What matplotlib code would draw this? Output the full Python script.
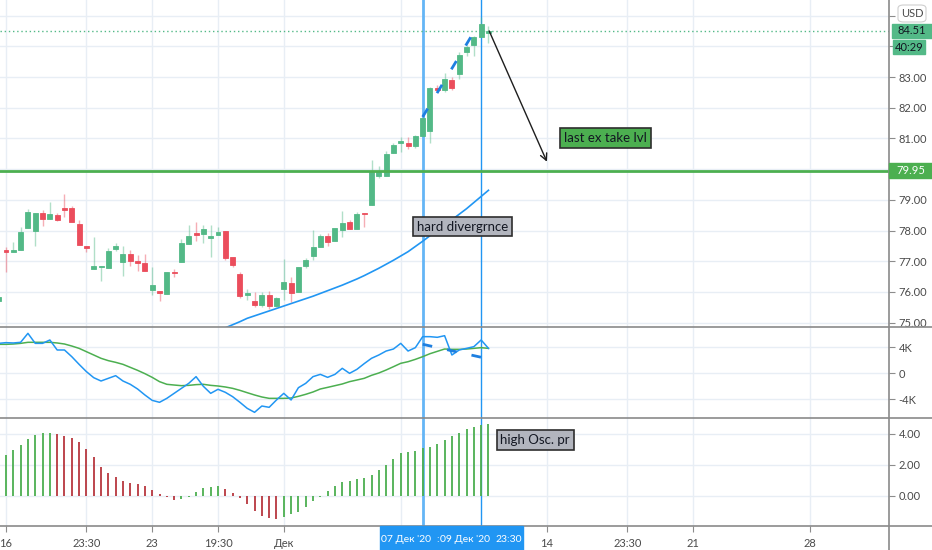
import numpy as np
import matplotlib
matplotlib.use("Agg")
import matplotlib.pyplot as plt
from matplotlib.patches import Rectangle, FancyBboxPatch
from matplotlib.lines import Line2D

# ---- data (bar index -1 .. 66) ----
bars = np.arange(-1, 67)
opens = [75.70, 77.37, 77.30, 77.36, 78.07, 77.99, 78.57, 78.38, 78.50, 78.73,
         78.74, 78.20, 77.50, 76.75, 76.81, 76.79, 77.41, 76.98, 77.23, 77.00,
         76.95, 76.05, 76.03, 75.93, 76.66, 76.98, 77.56, 77.91, 77.88, 77.77,
         77.84, 77.98, 77.13, 76.57, 75.91, 75.70, 75.57, 75.90, 75.55, 76.08,
         76.28, 76.00, 76.83, 77.17, 77.47, 77.82, 77.66, 78.02, 78.27, 78.04,
         78.56, 78.83, 79.79, 79.79, 80.51, 80.86, 80.85, 80.75, 81.08, 81.25,
         82.63, 82.57, 82.91, 83.09, 83.80, 84.04, 84.29, 84.44]
highs = [75.90, 77.47, 77.64, 78.10, 78.69, 78.57, 78.67, 78.94, 78.56, 79.19,
         78.80, 78.33, 77.50, 77.80, 76.84, 77.44, 77.60, 77.50, 77.35, 77.20,
         77.22, 76.82, 76.03, 76.64, 76.74, 77.71, 78.18, 78.28, 78.18, 78.18,
         78.10, 77.98, 77.15, 76.66, 76.09, 76.00, 76.00, 76.04, 75.85, 77.08,
         76.50, 76.82, 77.10, 78.01, 77.87, 77.91, 78.08, 78.63, 78.34, 78.60,
         78.56, 80.30, 80.10, 80.60, 80.84, 81.06, 81.06, 81.11, 81.70, 82.68,
         82.74, 83.14, 83.00, 83.82, 84.04, 84.34, 84.94, 84.66]
lows = [75.65, 76.65, 77.30, 77.36, 78.07, 77.50, 78.15, 78.38, 78.31, 78.44,
        78.29, 77.53, 77.30, 76.75, 76.37, 76.79, 77.33, 76.53, 76.85, 76.68,
        76.69, 75.90, 75.71, 75.93, 76.50, 76.98, 77.56, 77.65, 77.60, 77.15,
        77.84, 77.05, 76.82, 75.81, 75.74, 75.50, 75.50, 75.43, 75.50, 75.74,
        75.67, 76.00, 76.78, 77.04, 77.47, 77.50, 77.66, 77.80, 78.04, 78.04,
        78.12, 78.83, 79.70, 79.79, 80.51, 80.57, 80.64, 80.68, 81.08, 80.86,
        82.52, 82.52, 82.58, 82.93, 83.69, 83.69, 84.29, 84.12]
closes = [75.83, 77.30, 77.35, 77.96, 78.61, 78.57, 78.38, 78.53, 78.35, 78.66,
          78.29, 77.53, 77.44, 76.83, 76.84, 77.34, 77.50, 77.23, 77.00, 76.94,
          76.69, 76.22, 75.98, 76.64, 76.62, 77.60, 77.83, 77.86, 78.04, 77.81,
          77.95, 77.11, 76.87, 75.88, 75.95, 75.58, 75.90, 75.54, 75.80, 76.32,
          75.95, 76.82, 77.03, 77.47, 77.82, 77.64, 78.08, 78.24, 78.04, 78.55,
          78.53, 79.92, 79.90, 80.49, 80.79, 80.91, 80.76, 81.08, 81.65, 82.65,
          82.57, 82.93, 82.63, 83.72, 83.98, 84.29, 84.73, 84.51]

ma_bars = np.arange(29, 67)
ma_values = [74.72, 74.83, 74.93, 75.03, 75.14, 75.22, 75.30, 75.38, 75.46, 75.54,
             75.62, 75.70, 75.78, 75.86, 75.95, 76.04, 76.13, 76.22, 76.32, 76.42,
             76.53, 76.65, 76.77, 76.90, 77.03, 77.17, 77.31, 77.48, 77.65, 77.83,
             78.00, 78.18, 78.35, 78.53, 78.71, 78.91, 79.11, 79.31]

osc_fast = [4.56, 4.67, 4.62, 4.72, 6.10, 4.56, 4.56, 5.08, 3.54, 3.54,
            2.51, 1.33, 0.21, -0.72, -1.23, -0.82, -0.41, -1.23, -1.74, -2.46,
            -3.38, -4.21, -4.51, -3.90, -3.13, -2.36, -1.59, -0.56, -2.05, -3.13,
            -2.51, -2.97, -3.64, -4.51, -5.44, -6.05, -5.08, -5.28, -4.15, -3.13,
            -4.15, -2.26, -1.59, -0.56, -0.21, -0.67, -0.21, 0.72, -0.05, 0.56,
            1.44, 2.26, 2.77, 3.38, 3.69, 4.56, 3.38, 3.90, 5.59, 5.59,
            5.49, 5.74, 2.77, 3.54, 3.79, 4.05, 5.08, 3.79]
osc_slow = [4.41, 4.41, 4.46, 4.56, 4.72, 4.72, 4.72, 4.72, 4.62, 4.46,
            4.15, 3.79, 3.28, 2.77, 2.26, 1.90, 1.64, 1.33, 0.87, 0.41,
            -0.10, -0.67, -1.33, -1.74, -1.85, -1.95, -1.90, -1.79, -1.74, -1.90,
            -2.00, -2.15, -2.36, -2.67, -3.03, -3.38, -3.69, -3.90, -3.90, -3.90,
            -3.85, -3.59, -3.28, -2.92, -2.46, -2.21, -1.95, -1.69, -1.33, -1.08,
            -0.82, -0.36, 0.00, 0.46, 0.97, 1.49, 1.74, 2.10, 2.51, 2.97,
            3.33, 3.69, 3.64, 3.64, 3.69, 3.79, 3.90, 3.79]

hist_bars = np.arange(0, 67)
hist_values = [2.63, 2.95, 3.27, 3.65, 3.91, 4.02, 4.06, 3.97, 3.85, 3.74,
               3.44, 2.99, 2.52, 1.88, 1.45, 1.22, 0.98, 0.81, 0.76, 0.65,
               0.38, 0.11, -0.08, -0.28, -0.22, -0.04, 0.28, 0.53, 0.60, 0.64,
               0.45, 0.19, -0.15, -0.53, -0.94, -1.28, -1.43, -1.47, -1.32, -1.17,
               -1.00, -0.68, -0.32, -0.04, 0.32, 0.64, 0.88, 0.96, 1.07, 1.17,
               1.35, 1.67, 1.99, 2.37, 2.74, 2.84, 2.90, 3.06, 3.16, 3.33,
               3.59, 3.85, 4.02, 4.29, 4.40, 4.55, 4.61]

price_div_x = [57, 64.8]
price_div_y = [81.70, 84.78]
osc_div_x = [57, 65]
osc_div_y = [4.42, 2.42]
marker_bars = [57, 65]
level_price = 79.95
last_price = 84.51
arrow_from = (66.1, 84.50)
arrow_to = (74.0, 80.24)

grid_bars = [0, 11, 20, 29, 38, 54, 74, 85, 94, 110]
grid_labels = ["16", "23:30", "23", "19:30", "Дек", "", "14", "23:30", "21", "28"]
price_ticks = np.arange(75, 86)
hidden_price_ticks = [80, 84, 85]
osc_ticks = [-4, 0, 4]
osc_labels = ["-4K", "0", "4K"]
hist_ticks = [0, 2, 4]

# ---- figure ----
plt.rcParams["font.family"] = ["Lato", "DejaVu Sans"]
W, H = 932, 550
fig = plt.figure(figsize=(W / 100, H / 100), dpi=100)


def fx(px):
    return px / W


def fy(py):
    return 1 - py / H


AXR = 889
ax_p = fig.add_axes([0, fy(327), fx(AXR), 327 / H])
ax_o = fig.add_axes([0, fy(418), fx(AXR), (418 - 327) / H])
ax_h = fig.add_axes([0, fy(526), fx(AXR), (526 - 418) / H])
axes = [ax_p, ax_o, ax_h]

GRID = "#e8eef5"
TICKC = "#8c8c8c"
LABC = "#4a4a4a"
UP = "#53b987"
DOWN = "#eb4d5c"
FS = 8

for ax in axes:
    ax.set_xlim(-6 / 7.31, (AXR - 6) / 7.31)
    for s in ax.spines.values():
        s.set_visible(False)
    ax.set_axisbelow(True)
    ax.set_xticks(grid_bars)
    ax.grid(True, color=GRID, lw=1)
    ax.yaxis.tick_right()
    ax.tick_params(axis="y", direction="out", length=4, width=0.8, color=TICKC,
                   labelsize=FS, labelcolor=LABC, pad=3)
    ax.tick_params(axis="x", length=0, labelbottom=False)

ax_p.set_ylim(83 - 250 / 30.7, 83 + 77 / 30.7)
ax_o.set_ylim((373 - 418) / 6.5, (373 - 327) / 6.5)
ax_h.set_ylim((496 - 526) / 15.6, (496 - 418) / 15.6)

ax_p.set_yticks(price_ticks)
ax_p.set_yticklabels(["" if v in hidden_price_ticks else f"{v:.2f}" for v in price_ticks])
ax_o.set_yticks(osc_ticks)
ax_o.set_yticklabels(osc_labels)
ax_h.set_yticks(hist_ticks)
ax_h.set_yticklabels([f"{v:.2f}" for v in hist_ticks])
ax_h.set_xticklabels(grid_labels)
ax_h.tick_params(axis="x", length=4, width=0.8, color=TICKC, labelbottom=True,
                 labelsize=FS, labelcolor=LABC, pad=4.5)

# ---- price panel ----
o = np.array(opens)
c = np.array(closes)
up = c >= o
cols = np.where(up, UP, DOWN)
ax_p.vlines(bars, lows, highs, colors=cols, lw=1, alpha=0.45, zorder=3)
body_lo = np.minimum(o, c)
body_h = np.maximum(np.abs(c - o), 0.03)
ax_p.bar(bars, body_h, bottom=body_lo, width=0.68, color=cols, edgecolor=cols,
         lw=0.6, zorder=3.5)

ax_p.plot(ma_bars, ma_values, color="#2196f3", lw=1.2, zorder=2.5)
ax_p.axhline(level_price, color="#4caf50", lw=2, zorder=4)
ax_p.axhline(last_price, color=UP, lw=1, ls=(0, (1, 2)), zorder=2)
ax_p.plot(price_div_x, price_div_y, color="#1e7fe0", lw=2, dashes=(3.5, 6.5), zorder=5)

ax_p.annotate("", xy=arrow_to, xytext=arrow_from,
              arrowprops=dict(arrowstyle="->", color="#1e1e1e", lw=1,
                              mutation_scale=12, shrinkA=0, shrinkB=0), zorder=6)

box_kw = dict(ha="center", va="center", fontsize=9.5, color="#131722", zorder=7)
box_style = "square,pad=0.3"
ax_p.text(82.0, 81.01, "last ex take lvl",
          bbox=dict(boxstyle=box_style, fc="#4caf50", ec="#2e2e2e", lw=1.2), **box_kw)
ax_p.text(62.45, 78.13, "hard divergrnce",
          bbox=dict(boxstyle=box_style, fc="#b2b5be", ec="#2e2e2e", lw=1.2), **box_kw)

# ---- oscillator panel ----
ax_o.plot(bars, osc_slow, color="#4caf50", lw=1.1, zorder=3)
ax_o.plot(bars, osc_fast, color="#2196f3", lw=1.1, zorder=3)
ax_o.plot(osc_div_x, osc_div_y, color="#1e7fe0", lw=2, dashes=(3.5, 5.5), zorder=4)

# ---- histogram panel ----
hv = np.array(hist_values)
rising = np.concatenate([[True], np.diff(hv) >= 0])
hcols = np.where(rising, "#4caf50", "#b7373f")
ax_h.vlines(hist_bars, 0, hv, colors=hcols, lw=1.3, zorder=3)
ax_h.text(72.4, 3.60, "high Osc. pr",
          bbox=dict(boxstyle=box_style, fc="#b2b5be", ec="#2e2e2e", lw=1.2), **box_kw)

# marker lines through every panel
for ax in axes:
    ax.axvline(marker_bars[0], color="#64b5f6", lw=2, zorder=1.5)
    ax.axvline(marker_bars[1], color="#2196f3", lw=1, zorder=1.5)

# ---- frame lines ----
SEP = "#8a8a8a"
for py in (327, 418, 526):
    fig.add_artist(Line2D([0, 1], [fy(py), fy(py)], transform=fig.transFigure,
                          color=SEP, lw=1.2, zorder=4))
fig.add_artist(Line2D([fx(AXR), fx(AXR)], [0, 1], transform=fig.transFigure,
                      color=SEP, lw=1.2, zorder=4))


# ---- right-scale tags ----
def tag(ax, value, text, fc, tc, x0, x1, h, dy=0):
    yc = ax.transData.transform((0, value))[1] / H - dy / H
    fig.add_artist(Rectangle((fx(x0), yc - h / 2 / H), (x1 - x0) / W, h / H,
                             transform=fig.transFigure, fc=fc, ec=fc, zorder=8))
    fig.text(fx((x0 + x1) / 2), yc, text, ha="center", va="center", color=tc,
             fontsize=FS, zorder=9)


tag(ax_p, last_price, f"{last_price:.2f}", UP, "#131722", 892, 932, 14)
tag(ax_p, last_price, "40:29", UP, "#131722", 893, 925, 14, dy=16.5)
tag(ax_p, level_price, f"{level_price:.2f}", "#4caf50", "white", 889, 932, 15)

fig.add_artist(FancyBboxPatch((fx(898), fy(22)), (926 - 898) / W, 17 / H,
                              boxstyle="round,pad=0,rounding_size=0.006",
                              transform=fig.transFigure, fc="white", ec="#cfcfcf",
                              lw=0.8, zorder=8))
fig.text(fx(912), fy(13.5), "USD", ha="center", va="center", fontsize=FS,
         color="#4a4a4a", zorder=9)

# ---- crosshair date range box ----
fig.add_artist(Rectangle((fx(380), 0), (523 - 380) / W, fy(526),
                         transform=fig.transFigure, fc="#2196f3", ec="#2196f3", zorder=8))
for px, s in ((406, "07 Дек '20"), (437.5, ":"), (465.5, "09 Дек '20"), (508.5, "23:30")):
    fig.text(fx(px), fy(539), s, ha="center", va="center", fontsize=7.5,
             color="white", zorder=9)

fig.savefig("out.png", dpi=100)
